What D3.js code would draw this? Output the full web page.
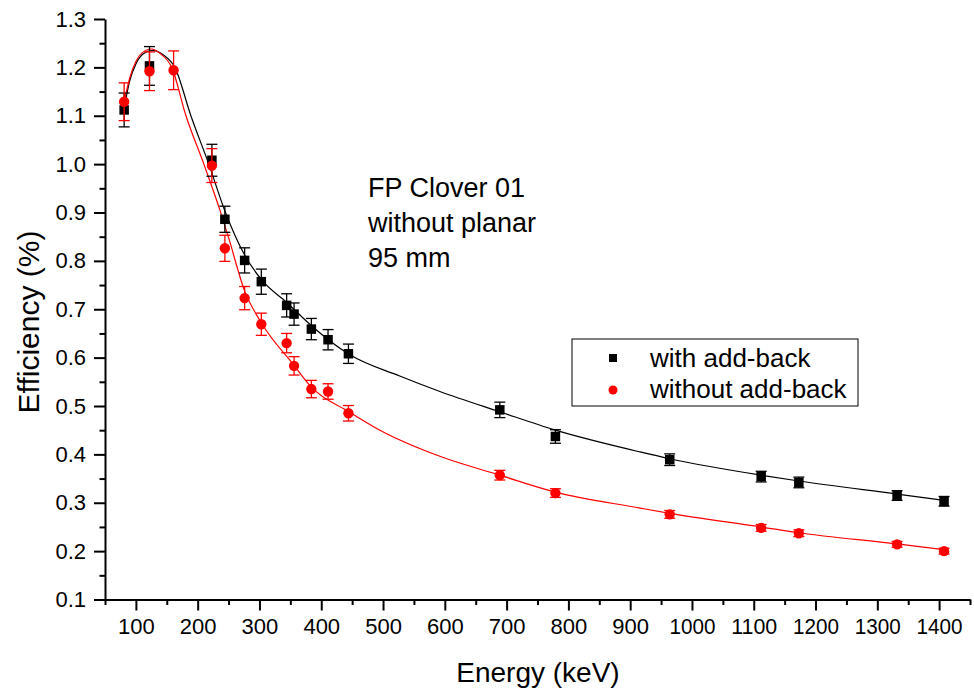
<!DOCTYPE html>
<html>
<head>
<meta charset="utf-8">
<script src="https://cdn.jsdelivr.net/npm/d3@7"></script>
<style>
  html, body { margin: 0; padding: 0; background: #fff; }
  svg { display: block; font-family: "Liberation Sans", Arial, sans-serif; }
</style>
</head>
<body>
<svg id="chart" width="974" height="693"></svg>
<script>
// ---- data ----
const energies = [81, 122, 161, 223, 244, 276, 303, 344, 356, 384, 411, 444, 689, 779, 964, 1112, 1173, 1332, 1408];
const withAddBack = [1.112, 1.203, null, 1.008, 0.886, 0.801, 0.757, 0.708, 0.690, 0.659, 0.637, 0.608, 0.492, 0.437, 0.389, 0.354, 0.342, 0.315, 0.303];
const withAddBackErr = [0.035, 0.040, null, 0.033, 0.027, 0.026, 0.026, 0.024, 0.023, 0.022, 0.021, 0.020, 0.016, 0.014, 0.012, 0.011, 0.011, 0.010, 0.010];
const withoutAddBack = [1.129, 1.192, 1.194, 0.997, 0.826, 0.723, 0.669, 0.630, 0.583, 0.535, 0.530, 0.485, 0.357, 0.320, 0.276, 0.248, 0.237, 0.214, 0.200];
const withoutAddBackErr = [0.039, 0.040, 0.040, 0.035, 0.027, 0.024, 0.023, 0.020, 0.019, 0.018, 0.016, 0.016, 0.010, 0.009, 0.008, 0.007, 0.007, 0.006, 0.006];

// fitted curves
const fitEnergyBlack = [81, 90, 100, 112, 127, 145, 163, 189, 218, 245, 276, 304, 344, 385, 445, 527, 592, 689, 779, 916, 964, 1112, 1173, 1332, 1408];
const fitBlack = [1.116, 1.172, 1.207, 1.228, 1.235, 1.225, 1.200, 1.100, 1.000, 0.900, 0.812, 0.760, 0.714, 0.665, 0.607, 0.562, 0.530, 0.488, 0.450, 0.405, 0.391, 0.357, 0.345, 0.318, 0.305];
const fitEnergyRed = [81, 90, 100, 110, 125, 140, 158, 181, 210, 236, 250, 276, 303, 356, 384, 445, 495, 592, 689, 779, 916, 964, 1112, 1173, 1332, 1408];
const fitRed = [1.129, 1.178, 1.212, 1.230, 1.238, 1.228, 1.200, 1.100, 1.000, 0.905, 0.848, 0.738, 0.672, 0.584, 0.539, 0.488, 0.450, 0.396, 0.357, 0.322, 0.289, 0.278, 0.250, 0.238, 0.215, 0.203];

const xMajorTicks = [100, 200, 300, 400, 500, 600, 700, 800, 900, 1000, 1100, 1200, 1300, 1400];
const xMinorTicks = [50, 150, 250, 350, 450, 550, 650, 750, 850, 950, 1050, 1150, 1250, 1350, 1450];
const yMajorTicks = [0.1, 0.2, 0.3, 0.4, 0.5, 0.6, 0.7, 0.8, 0.9, 1.0, 1.1, 1.2, 1.3];
const yMinorTicks = [0.15, 0.25, 0.35, 0.45, 0.55, 0.65, 0.75, 0.85, 0.95, 1.05, 1.15, 1.25];

const seriesNames = ["with add-back", "without add-back"];
const seriesColors = ["#000000", "#ff0000"];
const annotation = ["FP Clover 01", "without planar", "95 mm"];
const xTitle = "Energy (keV)";
const yTitle = "Efficiency (%)";

// ---- drawing ----
const svg = d3.select("#chart");
const x = d3.scaleLinear().domain([50, 1450]).range([105, 970]);
const y = d3.scaleLinear().domain([0.1, 1.3]).range([599.5, 19]);

const fontTick = 22;

// minor ticks
svg.append("g").attr("transform", `translate(0,${y(0.1)})`)
  .call(d3.axisBottom(x).tickValues(xMinorTicks).tickSize(5.5).tickSizeOuter(0).tickFormat(""))
  .call(g => g.select(".domain").remove())
  .call(g => g.selectAll("line").attr("stroke-width", 2));
svg.append("g").attr("transform", `translate(${x(50)},0)`)
  .call(d3.axisLeft(y).tickValues(yMinorTicks).tickSize(5.5).tickSizeOuter(0).tickFormat(""))
  .call(g => g.select(".domain").remove())
  .call(g => g.selectAll("line").attr("stroke-width", 2));

// major axes
const xAxis = svg.append("g").attr("transform", `translate(0,${y(0.1)})`)
  .call(d3.axisBottom(x).tickValues(xMajorTicks).tickSize(11).tickSizeOuter(0).tickPadding(8).tickFormat(d3.format("d")));
xAxis.select(".domain").attr("stroke-width", 2);
xAxis.selectAll("line").attr("stroke-width", 2);
xAxis.selectAll("text").attr("font-size", fontTick).attr("fill", "#000")
  .attr("font-family", "'Liberation Sans', Arial, sans-serif")
  .each(function(d) { if (String(d).length > 3) d3.select(this).attr("textLength", 46).attr("lengthAdjust", "spacingAndGlyphs"); });

const yAxis = svg.append("g").attr("transform", `translate(${x(50)},0)`)
  .call(d3.axisLeft(y).tickValues(yMajorTicks).tickSize(11).tickSizeOuter(0).tickPadding(8).tickFormat(d3.format(".1f")));
yAxis.select(".domain").attr("stroke-width", 2);
yAxis.selectAll("line").attr("stroke-width", 2);
yAxis.selectAll("text").attr("font-size", fontTick).attr("fill", "#000")
  .attr("font-family", "'Liberation Sans', Arial, sans-serif");

// fit lines
const line = d3.line().x(d => x(d[0])).y(d => y(d[1])).curve(d3.curveMonotoneX);
svg.append("path").datum(fitEnergyBlack.map((e, i) => [e, fitBlack[i]]))
  .attr("d", line).attr("fill", "none").attr("stroke", seriesColors[0]).attr("stroke-width", 1.2);
svg.append("path").datum(fitEnergyRed.map((e, i) => [e, fitRed[i]]))
  .attr("d", line).attr("fill", "none").attr("stroke", seriesColors[1]).attr("stroke-width", 1.2);

// error bars + markers
function drawSeries(vals, errs, color, shape) {
  const pts = energies.map((e, i) => ({ e, v: vals[i], err: errs[i] })).filter(d => d.v != null);
  const g = svg.append("g");
  const cap = 5.5;
  pts.forEach(d => {
    const cx = x(d.e), top = y(d.v + d.err), bot = y(d.v - d.err);
    g.append("line").attr("x1", cx).attr("x2", cx).attr("y1", top).attr("y2", bot).attr("stroke", color).attr("stroke-width", 1.3);
    g.append("line").attr("x1", cx - cap).attr("x2", cx + cap).attr("y1", top).attr("y2", top).attr("stroke", color).attr("stroke-width", 1.3);
    g.append("line").attr("x1", cx - cap).attr("x2", cx + cap).attr("y1", bot).attr("y2", bot).attr("stroke", color).attr("stroke-width", 1.3);
  });
  if (shape === "square") {
    g.selectAll("rect").data(pts).join("rect")
      .attr("x", d => x(d.e) - 4.75).attr("y", d => y(d.v) - 4.75)
      .attr("width", 9.5).attr("height", 9.5).attr("fill", color);
  } else {
    g.selectAll("circle").data(pts).join("circle")
      .attr("cx", d => x(d.e)).attr("cy", d => y(d.v)).attr("r", 5.2).attr("fill", color);
  }
}
drawSeries(withAddBack, withAddBackErr, seriesColors[0], "square");
drawSeries(withoutAddBack, withoutAddBackErr, seriesColors[1], "circle");

// annotation
const ann = svg.append("text").attr("font-size", 27).attr("fill", "#000");
annotation.forEach((t, i) => ann.append("tspan").attr("x", 368).attr("y", 197 + i * 35).text(t));

// legend
const lg = svg.append("g");
lg.append("rect").attr("x", 572).attr("y", 339).attr("width", 286).attr("height", 67)
  .attr("fill", "#fff").attr("stroke", "#000").attr("stroke-width", 1);
lg.append("rect").attr("x", 613 - 4).attr("y", 358 - 4).attr("width", 8).attr("height", 8).attr("fill", seriesColors[0]);
lg.append("circle").attr("cx", 613).attr("cy", 390).attr("r", 4.5).attr("fill", seriesColors[1]);
seriesNames.forEach((n, i) => lg.append("text").attr("x", 650).attr("y", 367 + i * 31)
  .attr("font-size", 26).attr("fill", "#000").text(n));

// axis titles
svg.append("text").attr("x", 538).attr("y", 682).attr("text-anchor", "middle")
  .attr("font-size", 28).attr("fill", "#000").text(xTitle);
svg.append("text").attr("transform", "translate(39,322) rotate(-90)").attr("text-anchor", "middle")
  .attr("font-size", 30).attr("fill", "#000").text(yTitle);
</script>
</body>
</html>
